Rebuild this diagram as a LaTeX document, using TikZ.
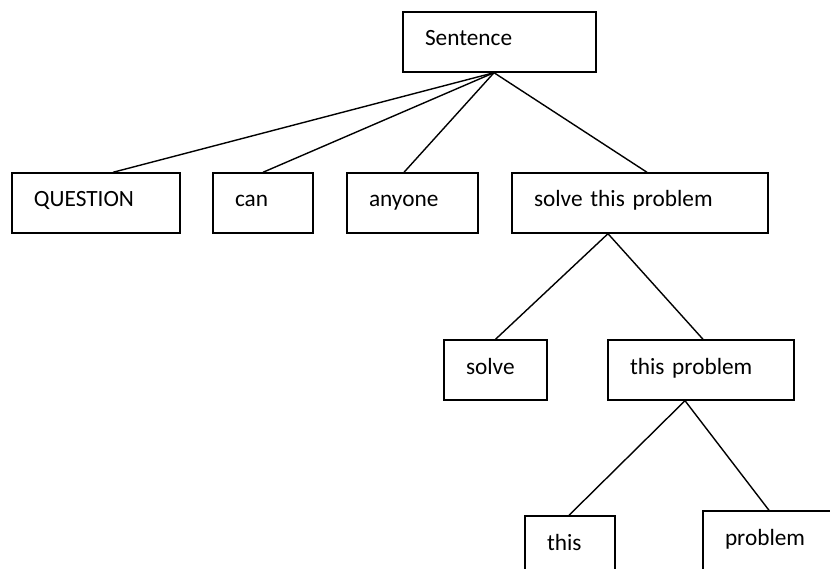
\documentclass[tikz,border=0pt]{standalone}
\usepackage{fontspec}
\setmainfont{Carlito}
\begin{document}
\begin{tikzpicture}[x=1pt,y=-1pt,
  word/.style={draw, rectangle, line width=1.4pt, minimum height=60pt,
    inner xsep=22pt, inner ysep=0pt, align=left, text width=#1,
    text height=14pt, text depth=6pt,
    font=\fontsize{23.3}{28}\selectfont},
  link/.style={line width=1.4pt}]
\useasboundingbox (0,0) rectangle (830,569);
\clip (0,0) rectangle (830,569);

% parse tree boxes
\node[word=149pt] (S)    at (499.5,42)  {Sentence};
\node[word=124pt] (Q)    at (96,203)    {QUESTION};
\node[word=56pt]  (can)  at (263,203)   {can};
\node[word=87pt]  (any)  at (412.5,203) {anyone};
\node[word=212pt] (stp)  at (640,203)   {solve this problem};
\node[word=59pt]  (slv)  at (495.5,370) {solve};
\node[word=142pt] (tp)   at (701,370)   {this problem};
\node[word=46pt]  (this) at (570,546)   {this};
\node[word=130pt] (prob) at (790,541)   {problem};

% branches
\draw[link] ([xshift=-5.5pt]S.south) -- ([xshift=17pt]Q.north);
\draw[link] ([xshift=-5.5pt]S.south) -- (can.north);
\draw[link] ([xshift=-5.5pt]S.south) -- ([xshift=-8.5pt]any.north);
\draw[link] ([xshift=-5.5pt]S.south) -- ([xshift=7pt]stp.north);
\draw[link] ([xshift=-32pt]stp.south) -- (slv.north);
\draw[link] ([xshift=-32pt]stp.south) -- ([xshift=2pt]tp.north);
\draw[link] ([xshift=-16pt]tp.south) -- ([xshift=-1pt]this.north);
\draw[link] ([xshift=-16pt]tp.south) -- ([xshift=-21pt]prob.north);
\end{tikzpicture}
\end{document}
